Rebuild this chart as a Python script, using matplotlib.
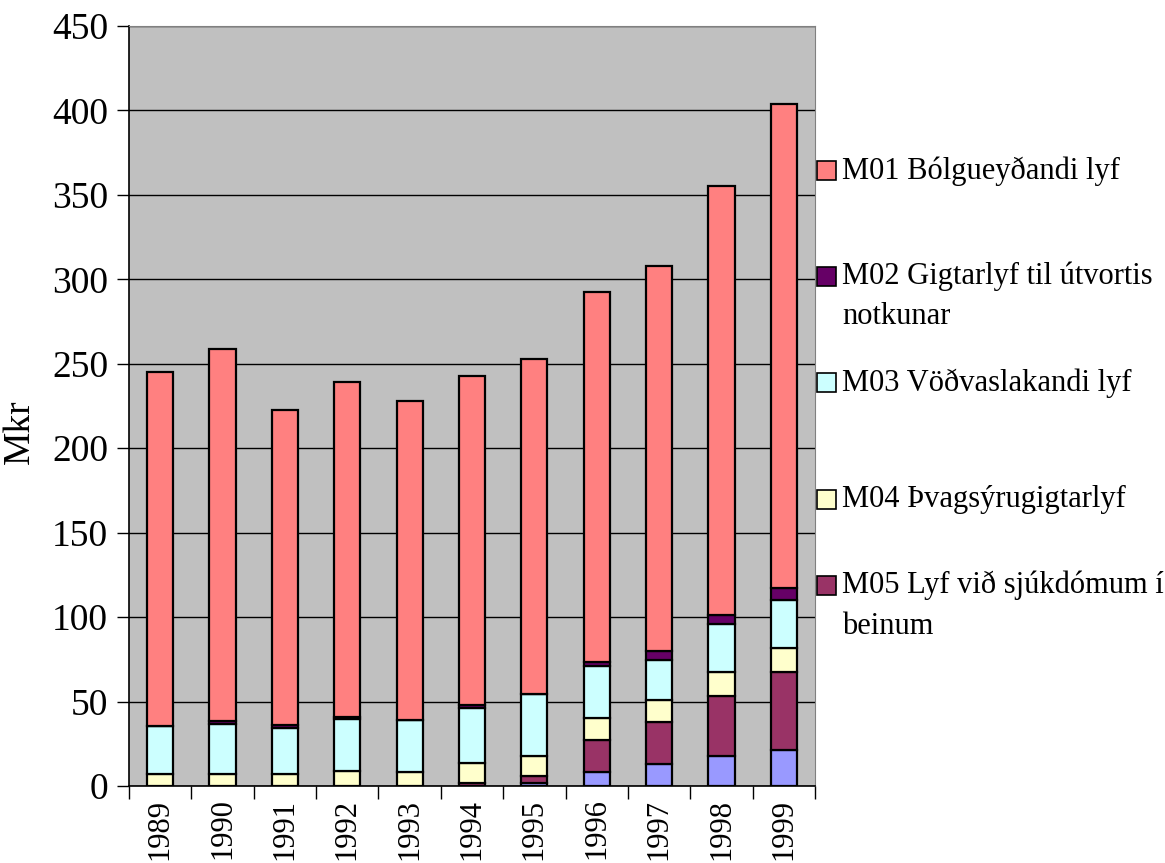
import numpy as np
import matplotlib.pyplot as plt
import matplotlib
from matplotlib.patches import Rectangle
matplotlib.rcParams.update({'font.family': ['Liberation Serif', 'DejaVu Serif'], 'font.size': 21})

# Gögn (Mkr)
ar = ['1989', '1990', '1991', '1992', '1993', '1994', '1995', '1996', '1997', '1998', '1999']
m09 = [0, 0, 0, 0, 0, 0, 1.5, 8.3, 13.2, 17.8, 21.3]
m05 = [0, 0, 0, 0, 0, 2.0, 4.4, 18.9, 24.5, 35.7, 46.0]
m04 = [7.0, 7.3, 7.3, 8.7, 8.5, 11.4, 11.9, 12.8, 13.2, 14.0, 14.4]
m03 = [28.5, 29.4, 27.0, 30.8, 30.5, 32.6, 36.5, 31.0, 23.7, 28.2, 28.3]
m02 = [0, 1.8, 1.6, 1.2, 0, 2.0, 0, 2.4, 5.1, 5.5, 7.4]
heild = [245, 259, 222.5, 239, 228, 242.5, 253, 292.5, 308, 355.5, 404]

heiti = ['M01 Bólgueyðandi lyf', 'M02 Gigtarlyf til útvortis\nnotkunar', 'M03 Vöðvaslakandi lyf',
         'M04 Þvagsýrugigtarlyf', 'M05 Lyf við sjúkdómum í\nbeinum']
litir = {'M01': '#FF8080', 'M02': '#660066', 'M03': '#CCFFFF', 'M04': '#FFFFCC',
         'M05': '#993366', 'M09': '#9999FF'}

undir = np.array([m09, m05, m04, m03, m02]).sum(axis=0)
m01 = np.array(heild) - undir

fig = plt.figure(figsize=(11.65, 8.63), dpi=100)
ax = fig.add_axes([129 / 1165, 77 / 863, 686 / 1165, 760 / 863])
ax.set_facecolor('#C0C0C0')

x = np.arange(len(ar))
botn = np.zeros(len(ar))
for nafn, gildi in [('M09', m09), ('M05', m05), ('M04', m04), ('M03', m03), ('M02', m02), ('M01', m01)]:
    ax.bar(x, gildi, 0.42, bottom=botn, color=litir[nafn], edgecolor='black', linewidth=1.6, zorder=3)
    botn = botn + np.array(gildi)

ax.set_xlim(-0.5, len(ar) - 0.5)
ax.set_ylim(0, 450)
ax.set_yticks(np.arange(0, 451, 50))
ax.yaxis.grid(True, color='black', linewidth=1.0, zorder=1)
ax.set_axisbelow(True)
ax.tick_params(axis='y', direction='out', length=9, width=1, pad=6, labelsize=27)

ax.set_xticks(x)
ax.set_xticklabels(ar, rotation=90)
ax.set_xticks(np.arange(-0.5, len(ar)), minor=True)
ax.tick_params(axis='x', which='major', length=0, pad=9, labelsize=22)
ax.tick_params(axis='x', which='minor', direction='out', length=9, width=1)

ax.set_ylabel('Mkr', fontsize=27)
ax.yaxis.set_label_coords(-0.135, 0.466)
for s in ['top', 'right']:
    ax.spines[s].set_color('#808080')
for s in ['left', 'bottom']:
    ax.spines[s].set_linewidth(1.2)

# Skýringar
midjur = [170, 275.5, 382.5, 499, 585]
lyklar = ['M01', 'M02', 'M03', 'M04', 'M05']
for y, k, t in zip(midjur, lyklar, heiti):
    fig.patches.append(Rectangle((817 / 1165, (863 - y - 10) / 863), 19 / 1165, 19 / 863,
                                 transform=fig.transFigure, facecolor=litir[k],
                                 edgecolor='black', linewidth=1.2))
    fig.text(842 / 1165, (863 - y + 14) / 863, t, va='top', ha='left', fontsize=22,
             linespacing=1.5, transform=fig.transFigure)

fig.savefig('out.png', dpi=100)
